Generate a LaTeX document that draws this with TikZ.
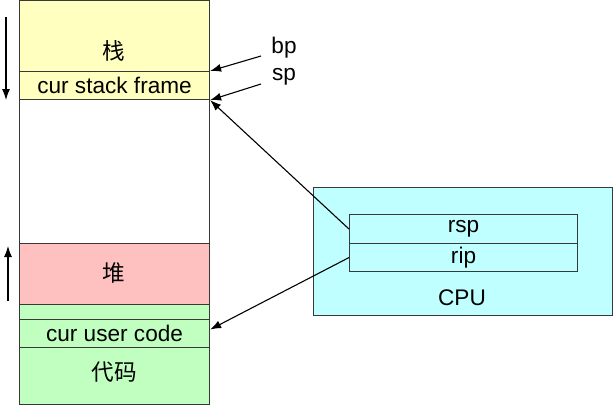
\documentclass[tikz,border=0pt]{standalone}
\usepackage{fontspec}
\setmainfont{Liberation Sans}
\newfontfamily\cjk{Noto Sans CJK SC}
\usetikzlibrary{arrows.meta,calc}
\definecolor{stackyellow}{RGB}{255,255,192}
\definecolor{heappink}{RGB}{255,192,192}
\definecolor{codegreen}{RGB}{192,255,192}
\definecolor{cpucyan}{RGB}{192,255,255}
\definecolor{edgegray}{RGB}{56,56,56}
\tikzset{
  memblock/.style={draw=edgegray, line width=1.1pt, inner sep=0pt, anchor=north west, minimum width=190pt},
  regblock/.style={draw=edgegray, line width=1.1pt, inner sep=0pt, anchor=north west, fill=cpucyan, minimum width=228pt},
  lbl/.style={inner sep=0pt},
  arr/.style={line width=1.1pt, -{Latex[length=11pt,width=8pt]}},
}
\begin{document}
\begin{tikzpicture}[x=1pt,y=-1pt,font=\fontsize{22.6}{26}\selectfont]
\useasboundingbox (0,0) rectangle (615,405);
% memory column
\node[memblock, fill=stackyellow, minimum height=71pt] (stack) at (19,0) {};
\node[lbl] (stacklbl) at (114,51) {\cjk 栈};
\node[memblock, fill=stackyellow, minimum height=28pt] (frame) at (19,71) {cur stack frame};
\node[memblock, fill=white, minimum height=144pt] (free) at (19,99) {};
\node[memblock, fill=heappink, minimum height=61pt] (heap) at (19,243) {};
\node[lbl] (heaplbl) at (114,273) {\cjk 堆};
\node[memblock, fill=codegreen, minimum height=15pt] (gap) at (19,304) {};
\node[memblock, fill=codegreen, minimum height=28pt] (code) at (19,319) {cur user code};
\node[memblock, fill=codegreen, minimum height=57pt] (text) at (19,347) {};
\node[lbl] (textlbl) at (114,372) {\cjk 代码};
% CPU
\node[draw=edgegray, line width=1.1pt, fill=cpucyan, anchor=north west, minimum width=299pt, minimum height=128pt, inner sep=0pt] (cpu) at (313,187) {};
\node[lbl] (cpulbl) at (462,298) {CPU};
\node[regblock, minimum height=29pt] (rsp) at (349,214) {rsp};
\node[regblock, minimum height=28pt] (rip) at (349,243) {rip};
% bp / sp labels
\node[lbl] (bp) at (284,48) {bp};
\node[lbl] (sp) at (284,77) {sp};
\coordinate (bpstart) at (261,56);
\coordinate (spstart) at (261,84);
\draw[arr] (bpstart) -- (frame.north east);
\draw[arr] (spstart) -- (frame.south east);
% register pointers
\draw[arr] (rsp.west) -- (frame.south east);
\draw[arr] (rip.west) -- ($(code.east)+(0,-4)$);
% growth directions
\coordinate (downA) at (6,17);
\coordinate (downB) at (6,100);
\coordinate (upA) at (8,301);
\coordinate (upB) at (8,246);
\draw[arr] (downA) -- (downB);
\draw[arr] (upA) -- (upB);
\end{tikzpicture}
\end{document}
